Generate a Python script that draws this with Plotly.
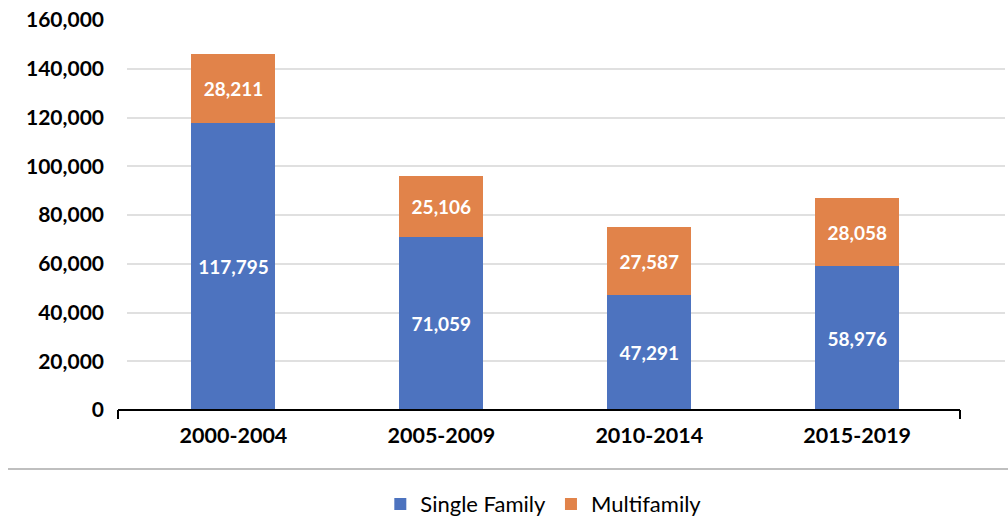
import plotly.graph_objects as go

categories = ["2000-2004", "2005-2009", "2010-2014", "2015-2019"]
single_family = [117795, 71059, 47291, 58976]
multifamily = [28211, 25106, 27587, 28058]
y_ticks = [0, 20000, 40000, 60000, 80000, 100000, 120000, 140000, 160000]

W, H = 1008, 517
L, R, T, B = 127, 3, 20, 107
PW = W - L - R
PH = H - T - B

def px_to_paper(px):
    return (px - L) / PW

label_font = dict(family="Lato", size=19, color="white", weight="bold")

fig = go.Figure()
fig.add_trace(go.Bar(
    x=categories, y=single_family, name="Single Family",
    marker=dict(color="#4D73BF", line=dict(width=0)),
    texttemplate="%{y:,}", textposition="inside", insidetextanchor="middle",
    textfont=label_font, width=0.404,
))
fig.add_trace(go.Bar(
    x=categories, y=multifamily, name="Multifamily",
    marker=dict(color="#E1834A", line=dict(width=0)),
    texttemplate="%{y:,}", textposition="inside", insidetextanchor="middle",
    textfont=label_font, width=0.404,
))

fig.update_layout(
    barmode="stack",
    width=W, height=H,
    margin=dict(l=L, r=R, t=T, b=B),
    plot_bgcolor="white", paper_bgcolor="white",
    font=dict(family="Lato", color="black"),
    xaxis=dict(
        type="category", range=[-0.512, 3.711],
        showgrid=False, showline=False, zeroline=False, ticks="",
        tickfont=dict(family="Lato", size=21.5, color="black", weight="bold"),
        ticklabelstandoff=10,
    ),
    yaxis=dict(
        range=[0, 160000], tickvals=y_ticks,
        tickformat=",", showgrid=True, gridcolor="#E0E0E0", gridwidth=2,
        zeroline=False, showline=False, ticks="",
        tickfont=dict(family="Lato", size=21, color="black", weight="bold"),
        ticklabelstandoff=22,
    ),
    legend=dict(
        orientation="h", xref="container", yref="container",
        x=0.5395, y=0.025, xanchor="center", yanchor="middle",
        font=dict(family="Lato", size=22, color="black"),
        traceorder="normal", itemwidth=30,
    ),
)

# category axis line with end ticks
x0p, x1p = px_to_paper(118), px_to_paper(960)
fig.add_shape(type="line", xref="paper", yref="paper", x0=x0p, x1=x1p, y0=0, y1=0,
              line=dict(color="black", width=2))
tick_len = 9 / PH
for xp in (x0p, x1p):
    fig.add_shape(type="line", xref="paper", yref="paper", x0=xp, x1=xp, y0=0, y1=-tick_len,
                  line=dict(color="black", width=2))

# separator line above legend
sep = -(469 - 410) / PH
fig.add_shape(type="line", xref="paper", yref="paper",
              x0=px_to_paper(8), x1=px_to_paper(1008), y0=sep, y1=sep,
              line=dict(color="#BFBFBF", width=2))

fig.write_html("out.html", config={"displayModeBar": False},
               post_script="document.body.style.margin='0';document.body.style.overflow='hidden';")
